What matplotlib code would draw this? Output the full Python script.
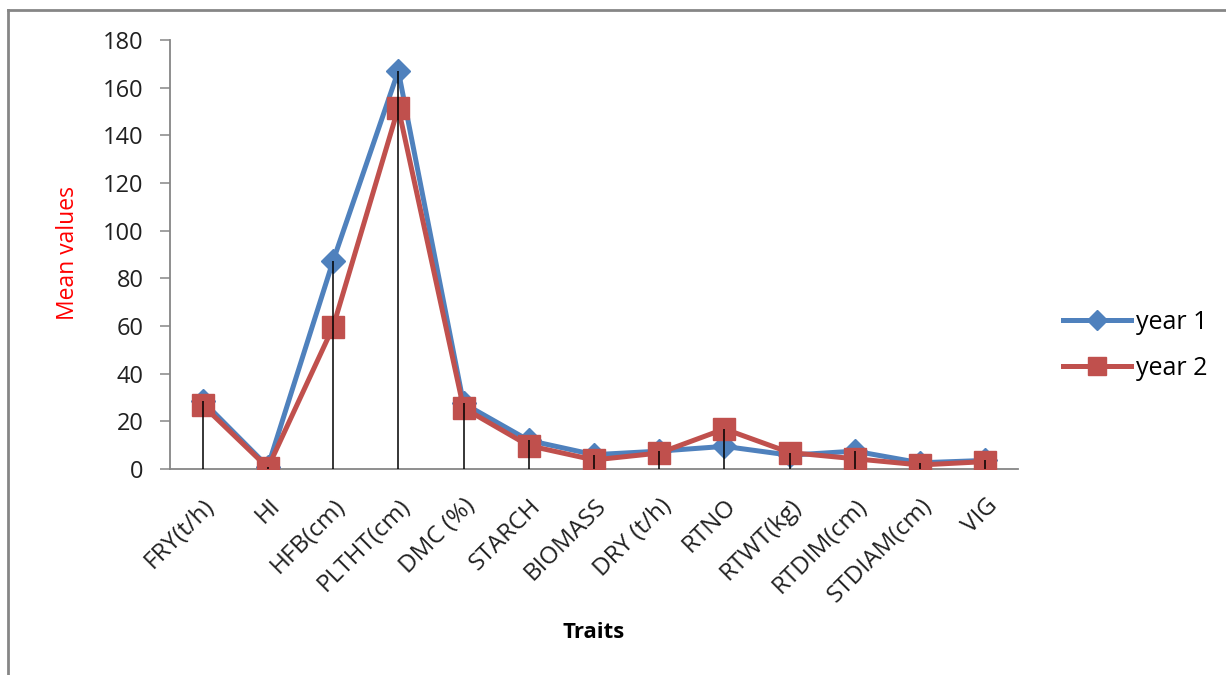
"""
Mean trait values over two years, with drop lines to the category axis.
"""
import matplotlib.pyplot as plt
from matplotlib.lines import Line2D
import numpy as np

traits = ["FRY(t/h)", "HI", "HFB(cm)", "PLTHT(cm)", "DMC (%)", "STARCH",
          "BIOMASS", "DRY (t/h)", "RTNO", "RTWT(kg)", "RTDIM(cm)",
          "STDIAM(cm)", "VIG"]
year1 = [28.5, 1.0, 87.3, 167.0, 27.5, 12.0, 6.0, 7.5, 9.5, 5.8, 7.5, 2.6, 3.6]
year2 = [26.8, 0.5, 59.6, 151.5, 25.6, 9.8, 3.8, 6.7, 16.8, 6.9, 4.3, 1.7, 3.1]
y_ticks = [0, 20, 40, 60, 80, 100, 120, 140, 160, 180]

BLUE = "#4F81BD"
RED = "#C0504D"
GREY = "#868686"

plt.rcParams["font.family"] = ["Open Sans", "DejaVu Sans"]

W, H = 1226, 675
fig = plt.figure(figsize=(W / 100, H / 100), dpi=100)
ax = fig.add_axes([170 / W, 1 - 469 / H, 848 / W, 429 / H])

x = np.arange(len(traits))
ax.plot(x, year1, color=BLUE, lw=3.6, marker="D", ms=12,
        label="year 1", zorder=3)
ax.plot(x, year2, color=RED, lw=3.6, marker="s", ms=15.5,
        label="year 2", zorder=4)

# Drop lines from the higher of the two series down to the axis
tops = np.maximum(year1, year2)
ax.vlines(x, 0, tops, color="black", lw=1.1, zorder=5)

ax.set_xlim(-0.5, len(traits) - 0.5)
ax.set_ylim(0, 180)
ax.set_yticks(y_ticks)
ax.set_xticks(x)
ax.set_xticklabels(traits, rotation=45, ha="right", rotation_mode="anchor",
                   fontsize=17.5)
ax.tick_params(axis="y", labelsize=17, length=7, width=1.1, color=GREY,
               pad=12, labelcolor="#202020")
ax.tick_params(axis="x", length=0, pad=18, labelcolor="#202020")

for side in ("top", "right"):
    ax.spines[side].set_visible(False)
for side in ("left", "bottom"):
    ax.spines[side].set_color(GREY)
    ax.spines[side].set_linewidth(1.3)

fig.text(68 / W, 1 - 253 / H, "Mean values", color="red", fontsize=16.5,
         rotation=90, ha="center", va="center")
fig.text(594 / W, 1 - 632 / H, "Traits", ha="center", va="center",
         fontsize=16, fontweight="bold")

ax.legend(loc="center left", bbox_to_anchor=(1063 / W, 1 - 345.5 / H),
          bbox_transform=fig.transFigure, frameon=False, fontsize=18,
          borderpad=0, borderaxespad=0, handlelength=2.7,
          handletextpad=0.2, labelspacing=0.85, markerscale=0.85)

# Chart border: only the top and left edges fall inside the image
fig.lines.append(Line2D([8 / W, 8 / W], [0, 1 - 10 / H],
                        transform=fig.transFigure, color=GREY, lw=2.0))
fig.lines.append(Line2D([8 / W, 1], [1 - 10 / H, 1 - 10 / H],
                        transform=fig.transFigure, color=GREY, lw=2.0))

fig.savefig("out.png", dpi=100)
